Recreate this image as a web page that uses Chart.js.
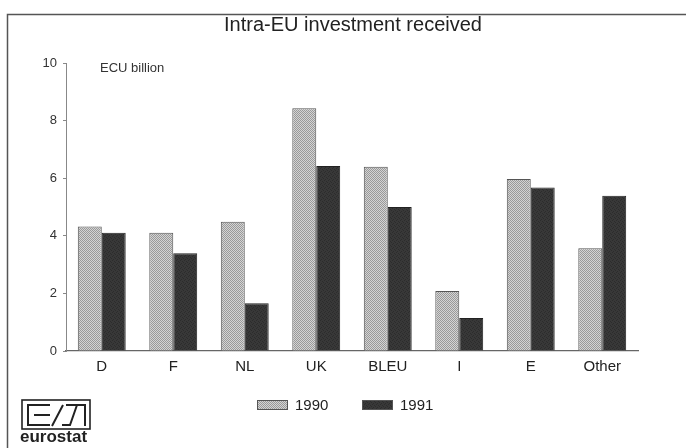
<!DOCTYPE html>
<html>
<head>
<meta charset="utf-8">
<script src="https://cdn.jsdelivr.net/npm/chart.js@4/dist/chart.umd.min.js"></script>
<style>
  html, body { margin: 0; padding: 0; background: #fff; }
  #wrap { width: 686px; height: 448px; position: relative; }
</style>
</head>
<body>
<div id="wrap"><canvas id="c" width="686" height="448"></canvas></div>
<script>
// Intra-EU investment received, ECU billion
const categories = ['D', 'F', 'NL', 'UK', 'BLEU', 'I', 'E', 'Other'];
const values1990 = [4.32, 4.11, 4.49, 8.43, 6.40, 2.08, 5.97, 3.57];
const values1991 = [4.11, 3.39, 1.66, 6.42, 5.00, 1.15, 5.68, 5.39];
const seriesNames = ['1990', '1991'];
const yTicks = [0, 2, 4, 6, 8, 10];

const FONT = '"Liberation Sans", Arial, Helvetica, sans-serif';

// Fine screen-tone textures for the bar fills
function makePattern(light, dark, specks) {
  const size = 4;
  const cv = document.createElement('canvas');
  cv.width = size; cv.height = size;
  const g = cv.getContext('2d');
  g.fillStyle = light;
  g.fillRect(0, 0, size, size);
  g.fillStyle = dark;
  specks.forEach(([x, y]) => g.fillRect(x, y, 1, 1));
  return g.createPattern(cv, 'repeat');
}
const ctx0 = document.getElementById('c').getContext('2d');
const checker = [];
for (let y = 0; y < 4; y++) for (let x = 0; x < 4; x++) if ((x + y) % 2 === 0) checker.push([x, y]);
const fill1990 = makePattern('#d4d4d4', '#999999', checker);
const fill1991 = makePattern('#383838', '#2c2c2c', [[0, 0], [2, 1], [1, 3], [3, 2]]);

// Frame, title, unit note, eurostat mark and legend
const decorations = {
  id: 'decorations',
  beforeDraw(chart) {
    const c = chart.ctx;
    c.save();
    c.fillStyle = '#fff';
    c.fillRect(0, 0, chart.width, chart.height);
    c.restore();
  },
  afterDraw(chart) {
    const c = chart.ctx;
    c.save();
    // outer frame (top and left edges)
    c.strokeStyle = '#555';
    c.lineWidth = 1.5;
    c.beginPath();
    c.moveTo(7.5, 448);
    c.lineTo(7.5, 14.5);
    c.lineTo(686, 14.5);
    c.stroke();

    // title
    c.fillStyle = '#222';
    c.font = '20px ' + FONT;
    c.textAlign = 'center';
    c.textBaseline = 'middle';
    c.fillText('Intra-EU investment received', 353, 25);

    // unit note
    c.font = '13px ' + FONT;
    c.textAlign = 'left';
    c.fillStyle = '#333';
    c.fillText('ECU billion', 100, 68);

    // eurostat mark
    c.strokeStyle = '#222';
    c.lineWidth = 1.6;
    c.strokeRect(22, 400, 68, 29);
    c.lineWidth = 2;
    c.beginPath();
    // E
    c.moveTo(50, 405); c.lineTo(28, 405); c.lineTo(28, 425); c.lineTo(50, 425);
    c.moveTo(34, 415); c.lineTo(50, 415);
    // slash
    c.moveTo(52, 426); c.lineTo(63, 405);
    // S-like figure
    c.moveTo(66, 405); c.lineTo(85, 405); c.lineTo(85, 426);
    c.moveTo(77, 405); c.lineTo(70, 425); c.lineTo(62, 425);
    c.stroke();
    c.fillStyle = '#222';
    c.font = 'bold 17px ' + FONT;
    c.textAlign = 'left';
    c.textBaseline = 'middle';
    c.fillText('eurostat', 20, 437);

    // legend
    const items = chart.data.datasets;
    const xs = [257, 362];
    c.font = '15px ' + FONT;
    items.forEach((ds, i) => {
      const x = xs[i];
      c.fillStyle = ds.backgroundColor;
      c.fillRect(x, 400, 31, 10);
      c.strokeStyle = '#555';
      c.lineWidth = 1;
      c.strokeRect(x + 0.5, 400.5, 30, 9);
      c.fillStyle = '#222';
      c.fillText(ds.label, x + 38, 406);
    });
    c.restore();
  }
};

new Chart(ctx0, {
  type: 'bar',
  data: {
    labels: categories,
    datasets: [
      {
        label: seriesNames[0],
        data: values1990,
        backgroundColor: fill1990,
        borderColor: '#555',
        borderWidth: 1,
        barPercentage: 1.0,
        categoryPercentage: 0.67
      },
      {
        label: seriesNames[1],
        data: values1991,
        backgroundColor: fill1991,
        borderColor: '#222',
        borderWidth: 1,
        barPercentage: 1.0,
        categoryPercentage: 0.67
      }
    ]
  },
  options: {
    responsive: false,
    animation: false,
    devicePixelRatio: 1,
    layout: { padding: { left: 36, right: 48, top: 63, bottom: 67 } },
    plugins: {
      legend: { display: false },
      title: { display: false },
      tooltip: { enabled: false }
    },
    scales: {
      x: {
        grid: { display: false, drawTicks: false },
        border: { display: true, color: '#666', width: 1.2 },
        ticks: {
          color: '#222',
          font: { family: FONT, size: 15 },
          padding: 7
        },
        afterFit(scale) { scale.height = 30; }
      },
      y: {
        min: 0,
        max: 10,
        afterBuildTicks(scale) { scale.ticks = yTicks.map(v => ({ value: v })); },
        grid: {
          drawOnChartArea: false,
          drawTicks: true,
          tickLength: 3,
          color: '#888'
        },
        border: { display: true, color: '#888', width: 1 },
        ticks: {
          color: '#333',
          font: { family: FONT, size: 13 },
          padding: 6
        },
        afterFit(scale) { scale.width = 30; }
      }
    }
  },
  plugins: [decorations]
});
</script>
</body>
</html>
